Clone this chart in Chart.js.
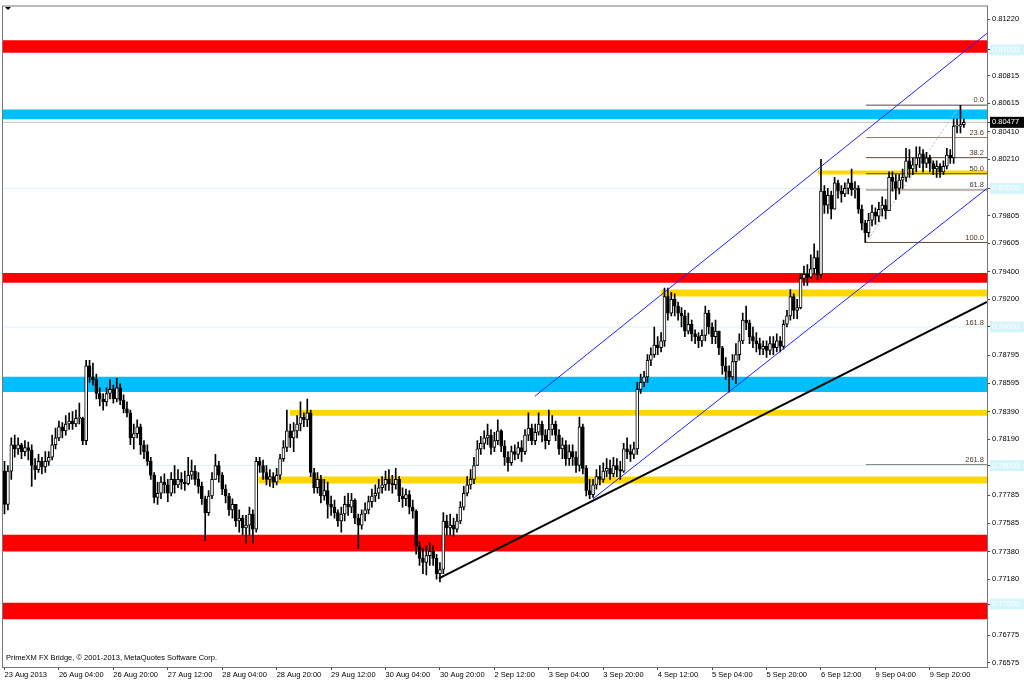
<!DOCTYPE html>
<html>
<head>
<meta charset="utf-8">
<title>H1 chart</title>
<script src="https://cdn.jsdelivr.net/npm/chart.js@4.4.1/dist/chart.umd.min.js"></script>
<style>
html, body { margin: 0; padding: 0; background: #fff; }
#box { width: 1024px; height: 682px; }
</style>
</head>
<body>
<div id="box"><canvas id="chart" width="1024" height="682"></canvas></div>
<script>
// prices in pips (x 0.0001), one H1 bar per entry, 23 Aug 12:00 .. 10 Sep
const firstOpen = 7796;
const closeP = [
7772,7796,7815,7812,7815,7810,7813,7811,7800,7797,7803,7799,7803,7806,7815,7820,7828,7825,7830,7832,
7830,7834,7834,7818,7872,7864,7862,7852,7848,7846,7852,7855,7848,7856,7847,7841,7838,7820,7823,7828,
7815,7810,7803,7793,7777,7780,7788,7786,7780,7790,7786,7790,7788,7787,7793,7796,7790,7785,7776,7766,
7778,7790,7800,7793,7783,7778,7768,7772,7760,7762,7755,7757,7765,7754,7803,7800,7795,7790,7792,7788,
7793,7805,7813,7825,7820,7825,7830,7835,7833,7838,7795,7784,7790,7778,7782,7772,7770,7766,7760,7765,
7772,7770,7775,7762,7757,7765,7768,7774,7778,7780,7784,7786,7790,7787,7786,7790,7778,7776,7779,7770,
7767,7742,7733,7730,7735,7738,7733,7722,7725,7760,7755,7757,7754,7760,7770,7780,7786,7790,7800,7812,
7816,7820,7822,7813,7818,7825,7814,7806,7802,7810,7808,7813,7810,7822,7827,7818,7824,7830,7822,7818,
7826,7830,7822,7812,7815,7805,7810,7806,7800,7828,7798,7782,7779,7786,7792,7790,7796,7798,7794,7800,
7797,7796,7812,7810,7808,7812,7855,7860,7864,7876,7880,7887,7885,7890,7922,7910,7920,7915,7910,7908,
7897,7902,7895,7893,7890,7894,7910,7900,7893,7897,7885,7872,7868,7864,7875,7880,7890,7905,7903,7893,
7890,7888,7884,7886,7883,7888,7885,7890,7886,7902,7908,7922,7912,7914,7935,7938,7936,7942,7950,7938,
7998,7988,7995,7985,8004,7998,7996,8000,8004,7999,8000,7985,7975,7968,7977,7983,7980,7985,7988,7984,
8008,8005,8000,8006,8008,8020,8014,8017,8022,8025,8018,8022,8018,8014,8016,8012,8016,8024,8022,8045,
8045,8046,8047.7
];
const highP = [
7803,7800,7820,7822,7820,7816,7818,7817,7815,7805,7808,7806,7810,7810,7822,7827,7832,7831,7836,7838,
7839,7840,7845,7835,7876,7876,7874,7866,7856,7852,7856,7862,7858,7863,7859,7851,7846,7840,7830,7833,
7830,7818,7815,7806,7795,7788,7792,7794,7790,7795,7800,7797,7795,7796,7806,7804,7800,7795,7788,7778,
7782,7795,7808,7803,7795,7786,7780,7776,7772,7768,7764,7764,7770,7768,7806,7806,7804,7800,7797,7795,
7798,7808,7818,7840,7830,7831,7836,7846,7838,7848,7840,7798,7795,7793,7790,7788,7778,7775,7768,7770,
7778,7780,7780,7776,7765,7768,7773,7778,7783,7786,7790,7792,7796,7797,7793,7798,7792,7784,7783,7782,
7775,7768,7745,7740,7742,7744,7742,7736,7730,7766,7764,7765,7762,7765,7774,7785,7792,7797,7806,7818,
7821,7825,7830,7826,7824,7833,7826,7818,7810,7814,7815,7817,7818,7826,7838,7830,7830,7838,7832,7826,
7840,7836,7832,7826,7820,7818,7815,7815,7810,7835,7830,7800,7790,7790,7797,7800,7802,7805,7804,7806,
7805,7803,7816,7820,7815,7817,7860,7866,7868,7880,7885,7900,7893,7896,7928,7928,7925,7924,7918,7914,
7912,7910,7905,7898,7896,7898,7915,7912,7903,7905,7897,7886,7878,7872,7880,7888,7895,7910,7915,7905,
7900,7896,7892,7890,7890,7893,7893,7895,7893,7905,7912,7927,7924,7920,7938,7944,7945,7952,7960,7955,
8021,8002,8000,7998,8008,8006,8002,8004,8007,8014,8005,8002,7988,7977,7982,7988,7986,7990,7994,7992,
8012,8012,8010,8010,8014,8029,8028,8022,8030,8030,8028,8026,8024,8020,8020,8018,8020,8029,8028,8050,
8050,8060,8050
];
const lowP = [
7765,7768,7790,7806,7808,7805,7807,7804,7785,7790,7795,7794,7795,7800,7804,7812,7818,7820,7822,7826,
7826,7828,7830,7815,7815,7860,7858,7848,7843,7840,7843,7848,7845,7846,7844,7838,7835,7815,7812,7820,
7808,7805,7800,7790,7773,7772,7776,7780,7774,7778,7780,7784,7783,7782,7786,7790,7786,7780,7772,7746,
7764,7776,7790,7788,7779,7773,7764,7762,7756,7752,7750,7744,7750,7744,7752,7795,7790,7786,7785,7784,
7786,7790,7803,7810,7813,7810,7820,7825,7828,7828,7792,7780,7780,7773,7775,7762,7764,7762,7756,7752,
7760,7764,7766,7758,7740,7754,7760,7765,7770,7774,7776,7780,7782,7782,7780,7783,7774,7770,7771,7765,
7762,7736,7728,7722,7721,7728,7728,7718,7716,7722,7750,7750,7749,7752,7758,7768,7778,7783,7787,7800,
7808,7812,7815,7808,7810,7815,7810,7800,7796,7800,7804,7805,7803,7808,7818,7815,7815,7822,7817,7812,
7815,7822,7818,7808,7805,7800,7800,7800,7795,7796,7794,7778,7776,7777,7783,7786,7788,7792,7790,7792,
7792,7790,7795,7805,7803,7805,7808,7852,7857,7860,7872,7878,7880,7882,7886,7905,7908,7908,7905,7900,
7893,7895,7890,7888,7885,7886,7890,7895,7888,7888,7880,7866,7862,7853,7862,7859,7876,7888,7898,7888,
7885,7882,7880,7880,7878,7880,7880,7882,7882,7884,7900,7905,7906,7906,7913,7930,7930,7935,7938,7934,
7935,7982,7982,7978,7985,7993,7990,7994,7996,7995,7993,7982,7970,7961,7965,7973,7974,7976,7980,7978,
7984,7998,7992,7996,8000,8005,8008,8010,8012,8015,8012,8015,8012,8010,8008,8008,8010,8014,8018,8018,
8040,8040,8044
];

const timeTicks = [0,16,32,48,64,80,96,112,128,144,160,176,192,208,224,240,256,272];
const timeLabels = ['23 Aug 2013','26 Aug 04:00','26 Aug 20:00','27 Aug 12:00','28 Aug 04:00','28 Aug 20:00',
  '29 Aug 12:00','30 Aug 04:00','30 Aug 20:00','2 Sep 12:00','3 Sep 04:00','3 Sep 20:00','4 Sep 12:00',
  '5 Sep 04:00','5 Sep 20:00','6 Sep 12:00','9 Sep 04:00','9 Sep 20:00'];
const priceTicks = [0.81220,0.80815,0.80615,0.80410,0.80210,0.79805,0.79605,0.79400,0.79200,0.78795,
  0.78595,0.78390,0.78190,0.77785,0.77585,0.77380,0.77180,0.76775,0.76575];
const levelTicks = [0.81000,0.80000,0.79000,0.78000,0.77000];
const bidPrice = 0.80477;

// zones as [low, high] price
const redZones = [[0.8098,0.8107],[0.7932,0.7939],[0.7738,0.7750],[0.7689,0.7701]];
const blueZones = [[0.8050,0.8057],[0.7853,0.7864]];
const yellowZones = [[0.7922,0.7927],[0.8010,0.8013],[0.7836,0.7840],[0.7787,0.7792]];
const yellowFrom = [193,239.1,83.8,74.6];

// fibo from 6 Sep low to 10 Sep high
const fibNames = ['0.0','23.6','38.2','50.0','61.8','100.0','161.8','261.8'];
const fibPrices = [0.80601,0.80367,0.80222,0.80106,0.79989,0.79610,0.78998,0.78007];
const fibFrom = 253.2;
const fibDiag = [[253.2,0.7961],[280.9,0.8060]];

const channelUp = [[155.9,0.7850],[288.8,0.8112]];
const channelDown = [[173,0.7776],[288.8,0.8000]];
const trendLine = [[127.7,0.77185],[288.8,0.79181]];

const xMin = -0.44, xMax = 288.8;
const yMin = 0.76546, yMax = 0.81313;
const FONT = 'Liberation Sans';

const px = p => p / 10000;
const openP = closeP.map((c, i) => i == 0 ? firstOpen : closeP[i - 1]);

let datasets = [];

function hline(y, from, color, width, order, dash){
	return {type:'line', data:[{x:from, y:y},{x:xMax, y:y}], borderColor:color, borderWidth:width,
		borderDash: dash || [], pointRadius:0, fill:false, order:order};
}
function zone(z, from, color){
	return {type:'line', data:[{x:from, y:z[0]},{x:xMax, y:z[0]}], borderWidth:0, pointRadius:0,
		fill:{value:z[1]}, backgroundColor:color, order:10};
}
function seg(pts, color, width, order, dash){
	return {type:'line', data:pts.map(p => ({x:p[0], y:p[1]})), borderColor:color, borderWidth:width,
		borderDash: dash || [], pointRadius:0, fill:false, order:order};
}

levelTicks.forEach(v => datasets.push(hline(v, xMin, '#d9f4fa', 1, 12)));
redZones.forEach(z => datasets.push(zone(z, xMin, '#ff0000')));
blueZones.forEach(z => datasets.push(zone(z, xMin, '#00bfff')));
yellowZones.forEach((z, i) => datasets.push(zone(z, yellowFrom[i], '#ffd700')));
datasets.push(hline(bidPrice, xMin, '#c0c0c0', 1, 9));

const fibColors = ['#5e4636','#8a7a6c','#5e4636','#5e4636','#8c6a55','#5e4636',null,'#8a8078'];
fibPrices.forEach((p, i) => { if(fibColors[i]) datasets.push(hline(p, fibFrom, fibColors[i], 1, 8)); });
datasets.push(seg(fibDiag, '#b8b8b8', 1, 8, [2,2]));

// candles: wick = low..high, body = open..close
datasets.push({type:'bar', data: closeP.map((c, i) => ({x:i, y:[px(lowP[i]), px(highP[i])]})),
	backgroundColor:'#000', barThickness:1, grouped:false, order:3});
datasets.push({type:'bar', data: closeP.map((c, i) => ({x:i, y:[px(openP[i]), px(c)]})),
	backgroundColor: closeP.map((c, i) => c >= openP[i] ? '#ffffff' : '#000000'),
	borderColor:'#000', borderWidth:1, borderSkipped:false, barThickness:3, minBarLength:1,
	grouped:false, order:2});

datasets.push(seg(channelUp, '#2020ff', 1, 1));
datasets.push(seg(channelDown, '#2020ff', 1, 1));
datasets.push(seg(trendLine, '#000000', 2, 0));

const decor = {
	id:'decor',
	afterDatasetsDraw(chart){
		const ctx = chart.ctx, ca = chart.chartArea;
		const xs = chart.scales.x, ys = chart.scales.y;
		ctx.save();
		// fibo texts
		ctx.font = '7.5px "' + FONT + '"';
		ctx.fillStyle = '#4a3426';
		ctx.textAlign = 'right';
		ctx.textBaseline = 'bottom';
		const xr = xs.getPixelForValue(xMax) - 3;
		fibNames.forEach((t, i) => ctx.fillText(t, xr, ys.getPixelForValue(fibPrices[i]) - 1));
		// copyright
		ctx.fillStyle = '#000';
		ctx.textAlign = 'left';
		ctx.textBaseline = 'middle';
		ctx.fillText('PrimeXM FX Bridge, \u00a9 2001-2013, MetaQuotes Software Corp.', ca.left + 3, ca.bottom - 9);
		// frame
		ctx.strokeStyle = '#777';
		ctx.lineWidth = 1;
		ctx.strokeRect(ca.left - 0.5, ca.top - 0.5, ca.right - ca.left + 1, ca.bottom - ca.top + 1);
		// small menu triangle
		ctx.fillStyle = '#000';
		ctx.beginPath();
		ctx.moveTo(5, 7); ctx.lineTo(11, 7); ctx.lineTo(8, 10); ctx.closePath();
		ctx.fill();
		ctx.restore();
	}
};

const allY = priceTicks.concat(levelTicks, [bidPrice]);

new Chart(document.getElementById('chart'), {
	type:'bar',
	data:{datasets:datasets},
	options:{
		responsive:false,
		animation:false,
		layout:{padding:{left:3, top:3, right:0, bottom:0}},
		plugins:{legend:{display:false}, tooltip:{enabled:false}},
		scales:{
			x:{
				type:'linear', min:xMin, max:xMax, offset:false,
				afterBuildTicks: s => { s.ticks = timeTicks.map(v => ({value:v})); },
				afterFit: s => { s.height = 15; },
				grid:{drawOnChartArea:false, offset:false, tickLength:3, color:'#444'},
				border:{display:false},
				ticks:{
					autoSkip:false, maxRotation:0, minRotation:0, align:'start', padding:0,
					color:'#000', font:{family:FONT, size:7.5},
					callback: v => timeLabels[timeTicks.indexOf(v)]
				}
			},
			y:{
				type:'linear', position:'right', min:yMin, max:yMax,
				afterBuildTicks: s => { s.ticks = allY.map(v => ({value:v})); },
				afterFit: s => { s.width = 37; },
				grid:{drawOnChartArea:false, tickLength:3, color:'#444'},
				border:{display:false},
				ticks:{
					autoSkip:false, padding:2, font:{family:FONT, size:7.5},
					callback: v => v.toFixed(5),
					color: c => (c.tick && (c.tick.value == bidPrice || levelTicks.includes(c.tick.value))) ? '#ffffff' : '#000000',
					showLabelBackdrop: c => !!(c.tick && (c.tick.value == bidPrice || levelTicks.includes(c.tick.value))),
					backdropColor: c => (c.tick && c.tick.value == bidPrice) ? '#000000' : '#d6f5fb',
					backdropPadding:{top:1, bottom:1, left:2, right:6}
				}
			}
		}
	},
	plugins:[decor]
});
</script>
</body>
</html>
